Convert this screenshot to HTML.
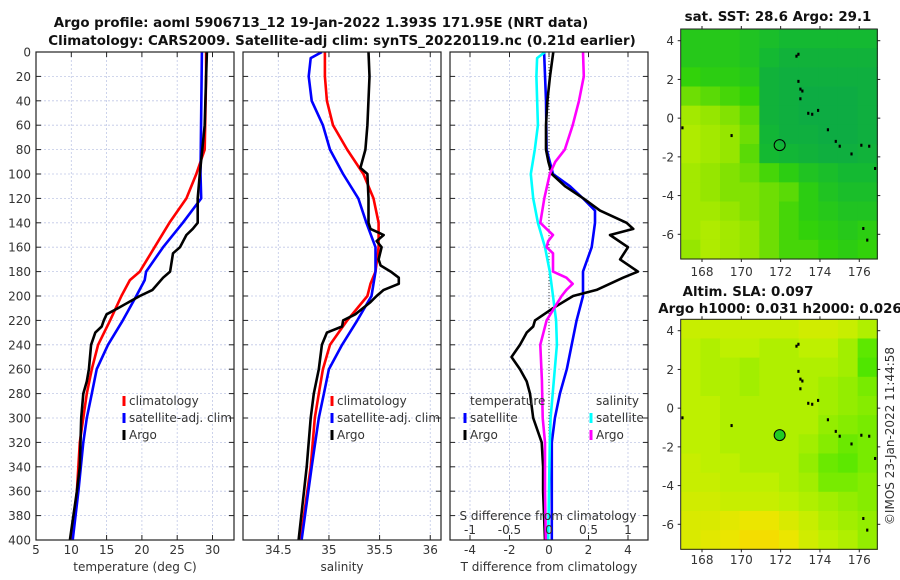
<!DOCTYPE html>
<html><head><meta charset="utf-8">
<style>
html,body{margin:0;padding:0;background:#fff;}
svg{display:block;font-family:"DejaVu Sans","Liberation Sans",sans-serif;}
.tl{font-size:12px;fill:#333;}
.ttl{font-size:13.4px;font-weight:bold;fill:#111;}
</style></head>
<body>
<svg id="fig" width="900" height="580" viewBox="0 0 900 580" xmlns="http://www.w3.org/2000/svg">
<text class="ttl" x="321" y="27" text-anchor="middle">Argo profile: aoml 5906713_12 19-Jan-2022 1.393S 171.95E (NRT data)</text>
<text class="ttl" x="342" y="45" text-anchor="middle">Climatology: CARS2009. Satellite-adj clim: synTS_20220119.nc (0.21d earlier)</text>
<text class="ttl" x="778" y="21" text-anchor="middle">sat. SST: 28.6 Argo: 29.1</text>
<text class="ttl" x="748" y="296" text-anchor="middle">Altim. SLA: 0.097</text>
<text class="ttl" x="780" y="313" text-anchor="middle">Argo h1000: 0.031 h2000: 0.026</text>
<text class="tl" x="0" y="0" transform="translate(894,436) rotate(-90)" text-anchor="middle">©IMOS 23-Jan-2022 11:44:58</text>
</svg>
<script>
// ---------- data ----------
const depthTicks=[0,20,40,60,80,100,120,140,160,180,200,220,240,260,280,300,320,340,360,380,400];
const tTicks=[5,10,15,20,25,30];
const sTicks=[34.5,35,35.5,36];
const dTicks=[-4,-2,0,2,4];
const dsTicks=[-1,-0.5,0,0.5,1];
const lonTicks=[168,170,172,174,176];
const latTicks=[4,2,0,-2,-4,-6];

const tClimDepth=[0,20,80,100,120,140,160,180,187,200,220,240,260,280,300,320,360,400];
const tClim=[29.1,29.1,28.9,27.7,26.3,23.9,21.8,19.7,18.3,17.1,15.5,13.8,12.9,12.2,11.7,11.2,10.8,10.1];
const tSatDepth=[0,100,120,140,160,180,187,200,220,240,260,280,300,320,360,400];
const tSat=[28.5,28.3,28.4,25.8,23.0,20.6,20.4,19.2,17.3,15.2,13.6,12.9,12.2,11.7,11.0,10.2];
const tArgoDepth=[0,20,60,100,120,140,145,150,160,165,180,185,195,200,210,215,220,225,230,240,260,270,280,300,340,360,380,400];
const tArgo=[29.2,29.1,28.9,28.2,27.9,27.9,27.2,26.3,25.4,24.4,24.0,23.0,21.5,19.7,16.6,15.0,14.6,14.3,13.4,12.8,12.5,12.2,11.7,11.4,11.2,10.8,10.3,9.8];

const sClimDepth=[0,20,40,60,80,100,120,140,160,180,190,200,220,240,260,280,300,340,400];
const sClim=[34.96,34.96,34.98,35.04,35.18,35.34,35.44,35.49,35.49,35.46,35.41,35.38,35.18,35.01,34.94,34.90,34.86,34.82,34.72];
const sSatDepth=[0,5,20,40,60,80,100,120,140,160,180,200,220,240,260,280,300,340,400];
const sSat=[34.93,34.82,34.80,34.83,34.94,35.01,35.14,35.29,35.37,35.46,35.46,35.42,35.28,35.13,35.00,34.95,34.90,34.83,34.73];
const sArgoDepth=[0,20,60,80,95,100,120,140,145,150,155,160,170,175,180,185,190,195,200,205,215,220,225,230,240,260,280,300,340,400];
const sArgo=[35.39,35.40,35.38,35.36,35.31,35.38,35.39,35.39,35.41,35.54,35.47,35.52,35.49,35.51,35.61,35.69,35.69,35.54,35.47,35.41,35.26,35.14,35.13,34.98,34.93,34.90,34.85,34.82,34.78,34.70];

const dtArgoDepth=[0,20,40,60,80,90,100,110,120,130,140,145,150,160,170,180,185,195,200,210,220,225,230,240,250,260,270,280,300,320,340,360,400];
const dtArgo=[0.22,0.05,-0.08,-0.15,-0.15,-0.03,0.14,0.81,1.74,2.58,3.93,4.27,3.09,4.0,3.6,4.5,3.75,2.41,1.22,0.2,-0.71,-0.8,-1.13,-1.47,-1.9,-1.47,-1.13,-0.96,-0.8,-0.37,-0.3,-0.3,-0.2];
const dtSatDepth=[0,40,80,100,110,120,130,140,160,180,200,220,240,260,280,300,320,400];
const dtSat=[-0.25,-0.15,-0.12,0.2,1.06,1.72,2.33,2.33,2.16,1.72,1.72,1.4,1.15,0.9,0.55,0.3,0.14,0.14];
const dsSatDepth=[0,5,20,60,80,100,120,140,160,180,200,220,240,300,320,400];
const dsSat=[-0.05,-0.15,-0.16,-0.14,-0.18,-0.23,-0.2,-0.14,-0.05,0.01,0.05,0.09,0.1,0.02,0.01,-0.01];
const dsArgoDepth=[0,20,40,60,80,90,100,120,140,145,150,155,160,165,180,185,190,195,200,220,240,269,300,320,360,400];
const dsArgo=[0.43,0.44,0.38,0.30,0.20,0.08,0.01,-0.06,-0.11,-0.03,0.05,-0.01,-0.03,0.05,0.05,0.22,0.30,0.22,0.16,-0.03,-0.11,-0.09,-0.08,-0.05,-0.05,-0.04];

const sstGrid=[
[0.45,0.45,0.45,0.40,0.35,0.30,0.30,0.30,0.30,0.30],
[0.45,0.45,0.45,0.40,0.30,0.20,0.20,0.20,0.20,0.20],
[0.55,0.50,0.50,0.45,0.20,0.15,0.15,0.15,0.15,0.15],
[0.70,0.65,0.60,0.55,0.20,0.15,0.10,0.10,0.10,0.15],
[0.85,0.80,0.75,0.65,0.20,0.15,0.10,0.10,0.10,0.15],
[0.90,0.85,0.80,0.70,0.25,0.15,0.15,0.10,0.10,0.15],
[0.90,0.85,0.80,0.65,0.30,0.25,0.20,0.15,0.15,0.20],
[0.85,0.80,0.75,0.70,0.60,0.50,0.40,0.35,0.30,0.30],
[0.85,0.80,0.75,0.75,0.70,0.65,0.50,0.40,0.35,0.35],
[0.85,0.85,0.80,0.75,0.70,0.60,0.50,0.45,0.40,0.40],
[0.85,0.90,0.85,0.80,0.70,0.60,0.55,0.50,0.45,0.50],
[0.80,0.90,0.85,0.80,0.70,0.60,0.60,0.55,0.50,0.55]];
const slaGrid=[
[0.60,0.60,0.60,0.60,0.60,0.60,0.65,0.65,0.60,0.50],
[0.55,0.50,0.55,0.55,0.50,0.50,0.55,0.55,0.45,0.20],
[0.55,0.50,0.50,0.45,0.50,0.50,0.50,0.50,0.45,0.15],
[0.55,0.50,0.50,0.45,0.50,0.50,0.50,0.45,0.40,0.30],
[0.55,0.55,0.50,0.50,0.50,0.50,0.50,0.45,0.40,0.35],
[0.55,0.55,0.50,0.50,0.50,0.50,0.50,0.40,0.35,0.30],
[0.55,0.55,0.50,0.50,0.50,0.50,0.45,0.35,0.25,0.30],
[0.60,0.55,0.55,0.50,0.50,0.50,0.40,0.25,0.20,0.30],
[0.60,0.60,0.55,0.55,0.55,0.50,0.45,0.30,0.30,0.35],
[0.65,0.65,0.60,0.60,0.60,0.55,0.50,0.45,0.40,0.35],
[0.70,0.70,0.75,0.80,0.80,0.70,0.60,0.50,0.45,0.40],
[0.70,0.75,0.80,0.90,0.90,0.80,0.65,0.55,0.50,0.40]];
const coastLon=[172.8,172.9,172.9,173.0,173.1,173.0,173.4,173.6,173.9,174.4,174.8,175.0,175.6,176.1,176.5,176.8,169.5,167.0,176.2,176.4];
const coastLat=[3.2,3.3,1.9,1.5,1.4,1.0,0.25,0.2,0.4,-0.6,-1.2,-1.45,-1.85,-1.4,-1.45,-2.6,-0.9,-0.5,-5.7,-6.3];
const argoLon=171.95, argoLat=-1.393;

// ---------- helpers ----------
const NS="http://www.w3.org/2000/svg";
const svg=document.getElementById('fig');
function mk(tag,attrs,parent){const e=document.createElementNS(NS,tag);for(const k in attrs)e.setAttribute(k,attrs[k]);(parent||svg).appendChild(e);return e;}
const Y0=52,Y1=540;
const yD=d=>Y0+(d/400)*(Y1-Y0);

function panel(name,x0,x1,xs,ticks,fmt,label,showY){
  const g=mk('g',{});
  
  
  depthTicks.forEach(d=>{
    const l=mk('line',{x1:x0,x2:x1,y1:yD(d),y2:yD(d),stroke:'#c0c8e6','stroke-width':0.8,'stroke-dasharray':'2,2'},g);
    
    
    mk('line',{x1:x0,x2:x0+5,y1:yD(d),y2:yD(d),stroke:'#222','stroke-width':1},g);
    mk('line',{x1:x1-5,x2:x1,y1:yD(d),y2:yD(d),stroke:'#222','stroke-width':1},g);
    if(showY){const t=mk('text',{x:31,y:yD(d)+4.5,'text-anchor':'end',class:'tl'},g);t.textContent=d;
      
      }
  });
  ticks.forEach(v=>{
    const x=xs(v);
    const l=mk('line',{x1:x,x2:x,y1:Y0,y2:Y1,stroke:'#c0c8e6','stroke-width':0.8,'stroke-dasharray':'2,2'},g);
    
    
    mk('line',{x1:x,x2:x,y1:Y0,y2:Y0+5,stroke:'#222'},g);
    mk('line',{x1:x,x2:x,y1:Y1-5,y2:Y1,stroke:'#222'},g);
    const t=mk('text',{x:x,y:554,'text-anchor':'middle',class:'tl'},g);t.textContent=fmt(v);
    
    
  });
  const lab=mk('text',{x:(x0+x1)/2,y:571,'text-anchor':'middle',class:'tl'},g);lab.textContent=label;
  
  
  return g;
}
function frame(x0,x1){const r=mk('rect',{x:x0,y:Y0,width:x1-x0,height:Y1-Y0,fill:'none',stroke:'#222','stroke-width':1.2});
  
  }
function series(name,depths,vals,xs,color,x0){
  const pts=depths.map((d,i)=>xs(vals[i]).toFixed(1)+','+yD(d).toFixed(1)).join(' ');
  const p=mk('polyline',{points:pts,fill:'none',stroke:color,'stroke-width':2.6,'stroke-linejoin':'round','clip-path':'url(#clip'+x0+')'});
  
  
}
function clip(x0,x1){const defs=mk('defs',{});const c=mk('clipPath',{id:'clip'+x0},defs);mk('rect',{x:x0,y:Y0,width:x1-x0,height:Y1-Y0},c);}
function legend(items,mx,y0){
  items.forEach((it,i)=>{
    const y=y0+i*17;
    if(it.c){const m=mk('line',{x1:mx,x2:mx,y1:y-9,y2:y+1,stroke:it.c,'stroke-width':3});
      
      }
    const t=mk('text',{x:it.tx!==undefined?it.tx:mx+5,y:y,class:'tl',fill:'#111'});t.textContent=it.t;
    
    
  });
}

// ---------- panel 1: temperature ----------
const xT=v=>36+(v-5)*7.06;
clip(36,234);
panel('temperature-panel',36,234,xT,tTicks,v=>v,'temperature (deg C)',true);
series('temp-climatology-line',tClimDepth,tClim,xT,'#ff0000',36);
series('temp-satellite-line',tSatDepth,tSat,xT,'#0000ff',36);
series('temp-argo-line',tArgoDepth,tArgo,xT,'#000000',36);
frame(36,234);
legend([{t:'climatology',c:'#ff0000'},{t:'satellite-adj. clim',c:'#0000ff'},{t:'Argo',c:'#000'}],124,405);

// ---------- panel 2: salinity ----------
const xS=v=>278.3+(v-34.5)*101.3;
clip(243,441);
panel('salinity-panel',243,441,xS,sTicks,v=>v,'salinity',false);
series('sal-climatology-line',sClimDepth,sClim,xS,'#ff0000',243);
series('sal-satellite-line',sSatDepth,sSat,xS,'#0000ff',243);
series('sal-argo-line',sArgoDepth,sArgo,xS,'#000000',243);
frame(243,441);
legend([{t:'climatology',c:'#ff0000'},{t:'satellite-adj. clim',c:'#0000ff'},{t:'Argo',c:'#000'}],332,405);

// ---------- panel 3: differences ----------
const xDT=v=>549+v*19.75;
const xDS=v=>549+v*79;
clip(450,648);
panel('difference-panel',450,648,xDT,dTicks,v=>v,'T difference from climatology',false);
const zl=mk('line',{x1:549,x2:549,y1:Y0,y2:Y1,stroke:'#444','stroke-width':1,'stroke-dasharray':'1,2'});


series('dT-satellite-line',dtSatDepth,dtSat,xDT,'#0000ff',450);
series('dT-argo-line',dtArgoDepth,dtArgo,xDT,'#000000',450);
series('dS-satellite-line',dsSatDepth,dsSat,xDS,'#00ffff',450);
series('dS-argo-line',dsArgoDepth,dsArgo,xDS,'#ff00ff',450);
frame(450,648);
legend([{t:'temperature',tx:470},{t:'satellite',c:'#0000ff'},{t:'Argo',c:'#000'}],465,405);
legend([{t:'salinity',tx:596},{t:'satellite',c:'#00ffff'},{t:'Argo',c:'#ff00ff'}],591,405);
const st=mk('text',{x:548,y:520,'text-anchor':'middle',class:'tl',fill:'#111'});st.textContent='S difference from climatology';


dsTicks.forEach(v=>{const t=mk('text',{x:xDS(v),y:534,'text-anchor':'middle',class:'tl',fill:'#111'});t.textContent=v;
  
  });

// ---------- maps ----------
function lerpColor(stops,v){v=Math.max(0,Math.min(1,v));for(let i=1;i<stops.length;i++){if(v<=stops[i][0]){const a=stops[i-1],b=stops[i],f=(v-a[0])/(b[0]-a[0]);return 'rgb('+[1,2,3].map(k=>Math.round(a[k]+(b[k]-a[k])*f)).join(',')+')';}}return 'rgb('+stops[stops.length-1].slice(1).join(',')+')';}
const sstStops=[[0,10,165,75],[0.3,20,185,50],[0.55,50,210,10],[0.8,150,230,0],[1,200,240,0]];
const slaStops=[[0,40,225,0],[0.3,120,235,0],[0.55,190,240,0],[0.8,235,230,0],[1,252,212,0]];
function map(name,grid,stops,top,bottom,lat4y,latm6y,lonLabelY,dotFill){
  const L=680.7,R=877.3;
  const xL=lon=>702+(lon-168)*19.66;
  const yL=lat=>lat4y+(4-lat)*(latm6y-lat4y)/10;
  const g=mk('g',{});
  
  
  const rows=grid.length,cols=grid[0].length;
  const cw=(R-L)/cols,ch=(bottom-top)/rows;
  grid.forEach((row,r)=>row.forEach((v,c)=>{
    const cell=mk('rect',{x:L+c*cw,y:top+r*ch,width:cw+0.6,height:ch+0.6,fill:lerpColor(stops,v)},g);
    
    
  }));
  coastLon.forEach((lo,i)=>{const d=mk('rect',{x:xL(lo)-1,y:yL(coastLat[i])-1.5,width:2.2,height:3,fill:'#000'},g);
    
    });
  const c=mk('circle',{cx:xL(argoLon),cy:yL(argoLat),r:5.5,fill:dotFill,stroke:'#000','stroke-width':1},g);
  
  
  const fr=mk('rect',{x:L,y:top,width:R-L,height:bottom-top,fill:'none',stroke:'#222','stroke-width':1},g);
  
  
  lonTicks.forEach(lo=>{const x=xL(lo);mk('line',{x1:x,x2:x,y1:bottom,y2:bottom+3,stroke:'#222'},g);mk('line',{x1:x,x2:x,y1:top-3,y2:top,stroke:'#222'},g);
    const t=mk('text',{x:x,y:lonLabelY,'text-anchor':'middle',class:'tl'},g);t.textContent=lo;
    
    });
  latTicks.forEach(la=>{const y=yL(la);mk('line',{x1:L-3,x2:L,y1:y,y2:y,stroke:'#222'},g);mk('line',{x1:R,x2:R+3,y1:y,y2:y,stroke:'#222'},g);
    const t=mk('text',{x:674,y:y+4.5,'text-anchor':'end',class:'tl'},g);t.textContent=la;
    
    });
}
map('sst-map',sstGrid,sstStops,29,259,40.7,234.3,276,'none');
map('sla-map',slaGrid,slaStops,319.3,549.3,330.7,524.3,564,'#22cc22');
</script>
</body></html>
